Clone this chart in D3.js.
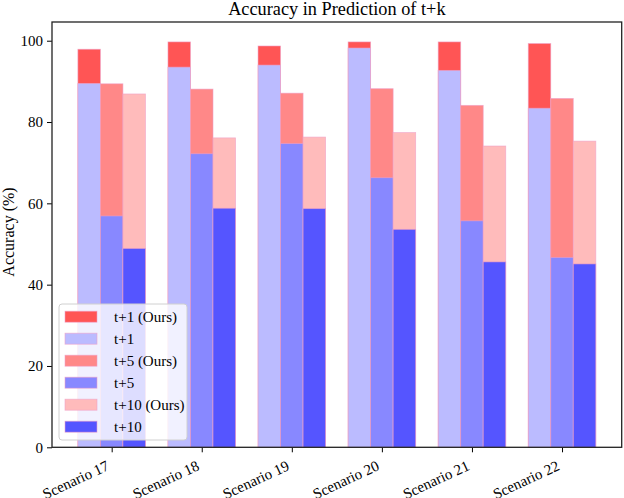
<!DOCTYPE html>
<html>
<head>
<meta charset="utf-8">
<script src="https://cdn.jsdelivr.net/npm/d3@7"></script>
<style>
  body { margin: 0; background: #fff; }
</style>
</head>
<body>
<svg width="624" height="498"></svg>
<script>
// scenarios on the x axis
const scenarios = ["Scenario 17", "Scenario 18", "Scenario 19", "Scenario 20", "Scenario 21", "Scenario 22"];
// accuracy (%) per scenario, ours vs baseline, for each horizon
const t1Ours  = [97.9, 99.7, 98.7, 99.7, 99.7, 99.3];
const t1      = [89.5, 93.5, 94.0, 98.2, 92.7, 83.4];
const t5Ours  = [89.4, 88.1, 87.1, 88.2, 84.1, 85.8];
const t5      = [56.9, 72.2, 74.7, 66.3, 55.7, 46.7];
const t10Ours = [86.9, 76.1, 76.3, 77.4, 74.1, 75.3];
const t10     = [48.9, 58.8, 58.7, 53.6, 45.6, 45.1];
const yTicks = [0, 20, 40, 60, 80, 100];

const FONT = '"Liberation Serif", "Times New Roman", Times, serif';

// each horizon: bar offset, ours series on the back, baseline in front
const groups = [
  {off: -0.25, ours: t1Ours,  base: t1,  oursName: "t+1 (Ours)",  baseName: "t+1",  oursCol: "#ff5555", baseCol: "#bbbbff"},
  {off: 0,     ours: t5Ours,  base: t5,  oursName: "t+5 (Ours)",  baseName: "t+5",  oursCol: "#ff8888", baseCol: "#8888ff"},
  {off: 0.25,  ours: t10Ours, base: t10, oursName: "t+10 (Ours)", baseName: "t+10", oursCol: "#ffbbbb", baseCol: "#5555ff"}
];

const margin = {top: 22, right: 2.3, bottom: 50.7, left: 52};
const W = 624, H = 498;
const iw = W - margin.left - margin.right, ih = H - margin.top - margin.bottom;
const barW = 0.25;

const svg = d3.select("svg").style("font-family", FONT);
const g = svg.append("g").attr("transform", `translate(${margin.left},${margin.top})`);

const x = d3.scaleLinear().domain([-0.6625, 5.6625]).range([0, iw]);
const y = d3.scaleLinear().domain([0, 104.6]).range([ih, 0]);

function bars(vals, col) {
  g.append("g").selectAll("rect").data(vals).enter().append("rect")
    .attr("x", (d, i) => x(i + col.off - barW / 2))
    .attr("width", x(barW) - x(0))
    .attr("y", d => y(d))
    .attr("height", d => y(0) - y(d))
    .attr("fill", col.fill)
    .attr("stroke", "rgba(240,160,200,0.7)")
    .attr("stroke-width", 0.8);
}
groups.forEach(s => {
  bars(s.ours, {off: s.off, fill: s.oursCol});
  bars(s.base, {off: s.off, fill: s.baseCol});
});

// axes
const xAxis = g.append("g").attr("transform", `translate(0,${ih})`)
  .call(d3.axisBottom(x).tickValues(d3.range(scenarios.length)).tickFormat(i => scenarios[i]).tickSize(5).tickSizeOuter(0));
xAxis.selectAll("text")
  .attr("y", 0).attr("dy", 0)
  .attr("text-anchor", "end")
  .attr("transform", "translate(-2,22) rotate(-25)");

const yAxis = g.append("g")
  .call(d3.axisLeft(y).tickValues(yTicks).tickSize(5).tickSizeOuter(0));
yAxis.selectAll("text").attr("dx", "-1");

g.selectAll(".tick text").style("font-family", FONT).style("font-size", "15px").attr("fill", "#000");
g.selectAll(".domain").remove();
g.selectAll(".tick line").attr("stroke", "#000").attr("stroke-width", 1);
g.append("rect").attr("width", iw).attr("height", ih)
  .attr("fill", "none").attr("stroke", "#222").attr("stroke-width", 1.3);

// title and y label
svg.append("text").attr("x", margin.left + iw / 2).attr("y", 15)
  .attr("text-anchor", "middle").style("font-size", "18.3px").style("font-family", FONT)
  .text("Accuracy in Prediction of t+k");
svg.append("text").attr("transform", `translate(13.5,232) rotate(-90)`)
  .attr("text-anchor", "middle").style("font-size", "16px").style("font-family", FONT)
  .text("Accuracy (%)");

// legend
const items = [];
groups.forEach(s => {
  items.push({name: s.oursName, col: s.oursCol});
  items.push({name: s.baseName, col: s.baseCol});
});
const lg = svg.append("g").attr("transform", "translate(59,304)");
lg.append("rect").attr("width", 128).attr("height", 136).attr("rx", 3)
  .attr("fill", "rgba(255,255,255,0.8)").attr("stroke", "#d0d0d0");
const row = lg.selectAll("g.item").data(items).enter().append("g")
  .attr("transform", (d, i) => `translate(6,${12.7 + i * 22})`);
row.append("rect").attr("x", 0).attr("y", -5.5).attr("width", 32).attr("height", 11)
  .attr("fill", d => d.col).attr("stroke", "rgba(240,160,200,0.7)").attr("stroke-width", 0.8);
row.append("text").attr("x", 49).attr("y", 5.3).style("font-size", "15px").style("font-family", FONT)
  .text(d => d.name);
</script>
</body>
</html>
